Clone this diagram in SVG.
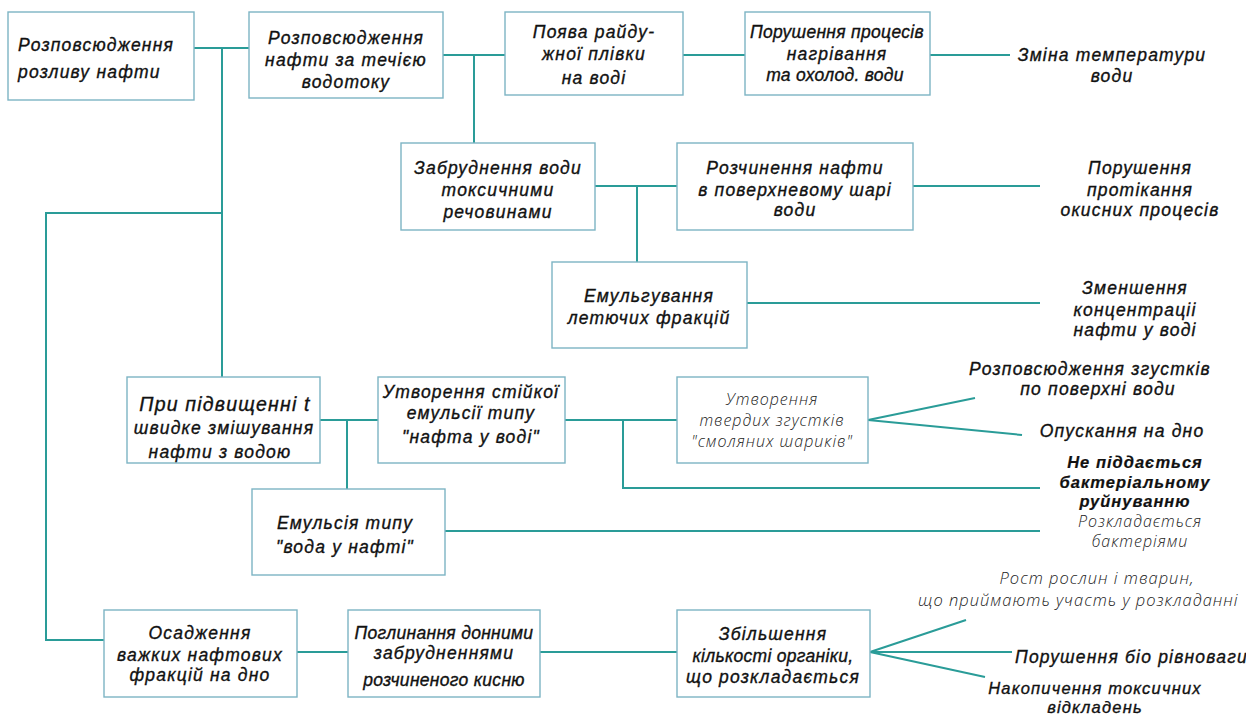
<svg xmlns="http://www.w3.org/2000/svg" width="1246" height="717" viewBox="0 0 1246 717">
<style>
  .box { fill: #ffffff; stroke: #7db4c4; stroke-width: 1.4; }
  .ln { fill: none; stroke: #2a9c98; stroke-width: 2; }
  text { font-family: "Liberation Sans", "DejaVu Sans", sans-serif; font-style: italic; font-size: 17.5px; fill: #111; stroke: #111; stroke-width: 0.35; letter-spacing: 1.2px; }
  .c { text-anchor: middle; }
  .thin { font-family: "Open Sans", "Liberation Sans", sans-serif; font-weight: 300; font-size: 16px; stroke: none; fill: #222; letter-spacing: 1px; }
  .b { font-weight: bold; font-size: 16.5px; stroke-width: 0.2; letter-spacing: 1px; }
  .tight { letter-spacing: 0.3px; }
  .sm { font-size: 16.5px; }
</style>
<rect width="1246" height="717" fill="#ffffff"/>
<g id="connectors">
  <path class="ln" d="M194,48 H249"/>
  <path class="ln" d="M222,48 V377"/>
  <path class="ln" d="M222,213 H46 V640 H104"/>
  <path class="ln" d="M443,55 H505"/>
  <path class="ln" d="M474,55 V143"/>
  <path class="ln" d="M683,55 H745"/>
  <path class="ln" d="M930,55 H1010"/>
  <path class="ln" d="M595,186 H677"/>
  <path class="ln" d="M637,186 V262"/>
  <path class="ln" d="M913,186 H1040"/>
  <path class="ln" d="M747,303 H1040"/>
  <path class="ln" d="M320,420 H378"/>
  <path class="ln" d="M347,420 V489"/>
  <path class="ln" d="M565,420 H677"/>
  <path class="ln" d="M623,420 V488 H1040"/>
  <path class="ln" d="M868,420 L975,398"/>
  <path class="ln" d="M868,420 L1022,435"/>
  <path class="ln" d="M445,531 H1040"/>
  <path class="ln" d="M297,652 H348"/>
  <path class="ln" d="M540,652 H677"/>
  <path class="ln" d="M870,652 L966,620"/>
  <path class="ln" d="M870,652 L1012,652"/>
  <path class="ln" d="M870,652 L985,677"/>
</g>
<g id="n1"><rect class="box" x="8" y="12" width="186" height="88"/>
  <text x="18" y="51">Розповсюдження</text><text x="18" y="78">розливу нафти</text></g>
<g id="n2"><rect class="box" x="249" y="12" width="194" height="86"/>
  <text class="c" x="346" y="44">Розповсюдження</text><text class="c" x="346" y="66">нафти за течією</text><text class="c" x="346" y="88">водотоку</text></g>
<g id="n3"><rect class="box" x="505" y="12" width="178" height="83"/>
  <text class="c" x="594" y="38">Поява райду-</text><text class="c" x="594" y="60">жної плівки</text><text class="c" x="594" y="84">на воді</text></g>
<g id="n4"><rect class="box" x="745" y="12" width="185" height="83"/>
  <text class="c tight" x="837" y="38">Порушення процесів</text><text class="c" x="837" y="60">нагрівання</text><text class="c tight" x="835" y="81">та охолод. води</text></g>
<g id="t1"><text class="c" x="1112" y="61">Зміна температури</text><text class="c" x="1112" y="82">води</text></g>
<g id="n5"><rect class="box" x="401" y="143" width="194" height="87"/>
  <text class="c" x="498" y="174">Забруднення води</text><text class="c" x="498" y="196">токсичними</text><text class="c" x="498" y="218">речовинами</text></g>
<g id="n6"><rect class="box" x="677" y="143" width="236" height="87"/>
  <text class="c" x="795" y="174">Розчинення нафти</text><text class="c" x="795" y="196">в поверхневому шарі</text><text class="c" x="795" y="216">води</text></g>
<g id="t2"><text class="c" x="1140" y="174">Порушення</text><text class="c" x="1140" y="196">протікання</text><text class="c" x="1140" y="216">окисних процесів</text></g>
<g id="n7"><rect class="box" x="552" y="262" width="195" height="86"/>
  <text class="c" x="649" y="302">Емульгування</text><text class="c" x="649" y="324">летючих фракцій</text></g>
<g id="t3"><text class="c" x="1135" y="294">Зменшення</text><text class="c" x="1135" y="316">концентраціі</text><text class="c" x="1135" y="336">нафти у воді</text></g>
<g id="n8"><rect class="box" x="127" y="377" width="193" height="86"/>
  <text class="c" x="225" y="411" style="font-size:19.5px">При підвищенні t</text><text class="c" x="224" y="434">швидке змішування</text><text class="c" x="220" y="458">нафти з водою</text></g>
<g id="n9"><rect class="box" x="378" y="377" width="187" height="86"/>
  <text class="c" x="471" y="398">Утворення стійкої</text><text class="c" x="471" y="419">емульсії типу</text><text class="c" x="471" y="443">"нафта у воді"</text></g>
<g id="n10"><rect class="box" x="677" y="377" width="191" height="86"/>
  <text class="c thin" x="772" y="405">Утворення</text><text class="c thin" x="772" y="426">твердих згустків</text><text class="c thin" x="772" y="447">"смоляних шариків"</text></g>
<g id="t4"><text class="c" x="1090" y="375">Розповсюдження згустків</text><text class="c" x="1098" y="395">по поверхні води</text></g>
<g id="t5"><text class="c" x="1122" y="437">Опускання на дно</text></g>
<g id="t6"><text class="c b" x="1135" y="468">Не піддається</text><text class="c b" x="1135" y="488">бактеріальному</text><text class="c b" x="1135" y="507">руйнуванню</text></g>
<g id="n11"><rect class="box" x="252" y="489" width="193" height="86"/>
  <text class="c" x="345" y="529">Емульсія типу</text><text class="c" x="345" y="553">"вода у нафті"</text></g>
<g id="t7"><text class="c thin" x="1140" y="527">Розкладається</text><text class="c thin" x="1140" y="547">бактеріями</text></g>
<g id="n12"><rect class="box" x="104" y="610" width="193" height="87"/>
  <text class="c" x="200" y="639">Осадження</text><text class="c" x="200" y="661">важких нафтових</text><text class="c" x="200" y="681">фракцій на дно</text></g>
<g id="n13"><rect class="box" x="348" y="610" width="192" height="87"/>
  <text class="c tight" x="444" y="639">Поглинання донними</text><text class="c" x="444" y="659">забрудненнями</text><text class="c tight" x="444" y="686">розчиненого кисню</text></g>
<g id="n14"><rect class="box" x="677" y="610" width="193" height="87"/>
  <text class="c" x="773" y="640">Збільшення</text><text class="c tight" x="773" y="662">кількості органіки,</text><text class="c" x="773" y="683">що розкладається</text></g>
<g id="t8"><text class="c thin" x="1097" y="584" style="font-size:16.5px">Рост рослин і тварин,</text><text class="thin" x="918" y="606" style="font-size:16.5px">що приймають участь у розкладанні</text></g>
<g id="t9"><text x="1015" y="663">Порушення біо рівноваги</text></g>
<g id="t10"><text class="c sm" x="1095" y="694">Накопичення токсичних</text><text class="c sm" x="1095" y="713">відкладень</text></g>
</svg>
